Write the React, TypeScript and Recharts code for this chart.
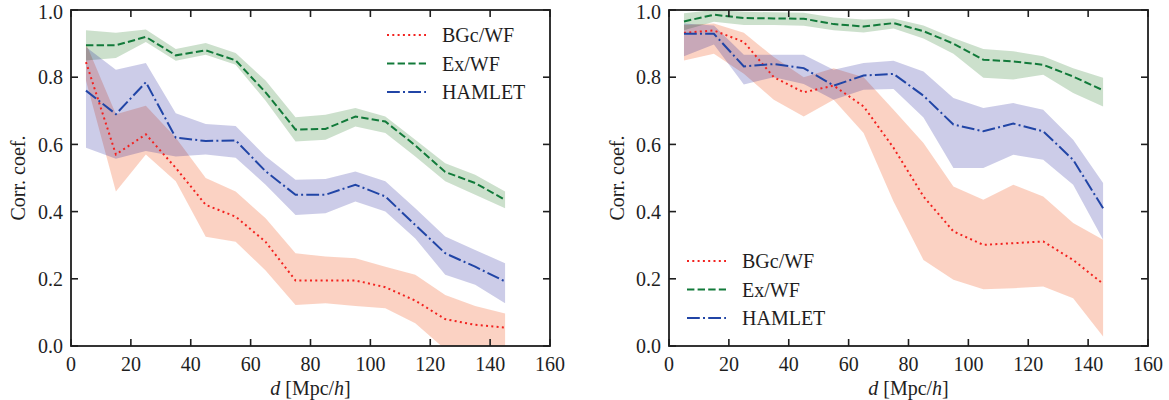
import { Area, ComposedChart, Line, XAxis, YAxis } from 'recharts'

// separation bins, Mpc/h
const DIST = [5, 15, 25, 35, 45, 55, 65, 75, 85, 95, 105, 115, 125, 135, 145]
const X_TICKS = [0, 20, 40, 60, 80, 100, 120, 140, 160]
const Y_TICKS = [0, 0.2, 0.4, 0.6, 0.8, 1.0]
const X_MAX = 160
const Y_MAX = 1

// left panel
const L_BGC = [0.845, 0.57, 0.63, 0.53, 0.42, 0.385, 0.31, 0.195, 0.195, 0.195, 0.175, 0.135, 0.08, 0.063, 0.055]
const L_BGC_LO = [0.79, 0.46, 0.57, 0.49, 0.325, 0.31, 0.225, 0.122, 0.127, 0.119, 0.112, 0.068, -0.01, -0.04, -0.06]
const L_BGC_HI = [0.9, 0.69, 0.715, 0.62, 0.5, 0.46, 0.38, 0.276, 0.266, 0.261, 0.236, 0.212, 0.152, 0.119, 0.097]
const L_EX = [0.895, 0.895, 0.92, 0.865, 0.88, 0.85, 0.755, 0.644, 0.646, 0.683, 0.668, 0.597, 0.518, 0.485, 0.435]
const L_EX_LO = [0.85, 0.857, 0.905, 0.849, 0.867, 0.837, 0.73, 0.609, 0.614, 0.653, 0.634, 0.564, 0.49, 0.45, 0.41]
const L_EX_HI = [0.94, 0.932, 0.942, 0.884, 0.902, 0.872, 0.79, 0.681, 0.688, 0.708, 0.683, 0.614, 0.544, 0.51, 0.46]
const L_HAM = [0.76, 0.69, 0.785, 0.62, 0.61, 0.612, 0.52, 0.45, 0.45, 0.48, 0.445, 0.36, 0.276, 0.236, 0.192]
const L_HAM_LO = [0.59, 0.557, 0.58, 0.564, 0.57, 0.56, 0.48, 0.39, 0.395, 0.43, 0.4, 0.32, 0.212, 0.182, 0.127]
const L_HAM_HI = [0.89, 0.822, 0.842, 0.693, 0.661, 0.655, 0.565, 0.495, 0.497, 0.519, 0.49, 0.41, 0.326, 0.286, 0.246]

// right panel
const R_BGC = [0.932, 0.939, 0.905, 0.8, 0.755, 0.775, 0.713, 0.59, 0.445, 0.341, 0.301, 0.306, 0.311, 0.256, 0.185]
const R_BGC_LO = [0.85, 0.87, 0.81, 0.733, 0.683, 0.733, 0.634, 0.43, 0.256, 0.197, 0.169, 0.172, 0.177, 0.142, 0.028]
const R_BGC_HI = [0.955, 0.96, 0.932, 0.86, 0.8, 0.827, 0.8, 0.703, 0.604, 0.475, 0.435, 0.48, 0.445, 0.366, 0.316]
const R_EX = [0.966, 0.986, 0.976, 0.975, 0.974, 0.958, 0.951, 0.961, 0.937, 0.9, 0.852, 0.847, 0.837, 0.802, 0.761]
const R_EX_LO = [0.94, 0.965, 0.955, 0.955, 0.953, 0.94, 0.933, 0.945, 0.915, 0.87, 0.798, 0.793, 0.807, 0.753, 0.713]
const R_EX_HI = [0.99, 1.0, 0.995, 0.993, 0.992, 0.978, 0.972, 0.975, 0.954, 0.917, 0.884, 0.877, 0.862, 0.827, 0.798]
const R_HAM = [0.929, 0.929, 0.832, 0.839, 0.827, 0.775, 0.805, 0.81, 0.745, 0.659, 0.639, 0.662, 0.639, 0.554, 0.41]
const R_HAM_LO = [0.862, 0.897, 0.778, 0.8, 0.78, 0.733, 0.763, 0.765, 0.68, 0.53, 0.53, 0.569, 0.554, 0.48, 0.316]
const R_HAM_HI = [0.96, 0.954, 0.867, 0.867, 0.867, 0.822, 0.842, 0.849, 0.817, 0.738, 0.708, 0.723, 0.703, 0.614, 0.485]

const FONT = '"Liberation Serif", "Times New Roman", serif'
const INK = '#1e1e1e'
const FS = 20
const TICK = 7

const SERIES = [
  { key: 'bgc', name: 'BGc/WF', color: '#f2221f', dash: '2 3.3', band: '#f26b38', bandOpacity: 0.3 },
  { key: 'ex', name: 'Ex/WF', color: '#127a3a', dash: '7.4 3.2', band: '#006400', bandOpacity: 0.2 },
  { key: 'ham', name: 'HAMLET', color: '#2145a6', dash: '12.8 3.2 2 3.2', band: '#00008b', bandOpacity: 0.2 },
]

type Row = Record<string, any>

function buildRows(s: number[][]): Row[] {
  return DIST.map((d, i) => ({
    d,
    bgc: s[0][i],
    bgcBand: [s[1][i], s[2][i]],
    ex: s[3][i],
    exBand: [s[4][i], s[5][i]],
    ham: s[6][i],
    hamBand: [s[7][i], s[8][i]],
  }))
}

const LEFT_ROWS = buildRows([L_BGC, L_BGC_LO, L_BGC_HI, L_EX, L_EX_LO, L_EX_HI, L_HAM, L_HAM_LO, L_HAM_HI])
const RIGHT_ROWS = buildRows([R_BGC, R_BGC_LO, R_BGC_HI, R_EX, R_EX_LO, R_EX_HI, R_HAM, R_HAM_LO, R_HAM_HI])

const tickFont = { fontFamily: FONT, fontSize: FS, fill: INK }

// plot box inside each panel
const TOP = 10
const LEFT = 71
const BOTTOM = 54
const HEIGHT = 400

function XLabel({ viewBox }: any) {
  const cx = viewBox.x + viewBox.width / 2
  return (
    <text x={cx} y={viewBox.y + 49} textAnchor="middle" fontFamily={FONT} fontSize={FS} fill={INK}>
      <tspan fontStyle="italic">d</tspan> [Mpc/<tspan fontStyle="italic">h</tspan>]
    </text>
  )
}

function LegendBox({ left, top }: { left: number; top: number }) {
  return (
    <svg width={160} height={90} style={{ position: 'absolute', left, top, overflow: 'visible' }}>
      {SERIES.map((s, i) => {
        const y = 8 + i * 28.5
        return (
          <g key={s.key}>
            <line x1={0} x2={39} y1={y} y2={y} stroke={s.color} strokeWidth={2} strokeDasharray={s.dash} />
            <text x={55} y={y + 7} fontFamily={FONT} fontSize={FS} fill={INK}>
              {s.name}
            </text>
          </g>
        )
      })}
    </svg>
  )
}

// boxed frame with inward ticks on all four sides, over the plot box
function FrameBox({ width, right }: { width: number; right: number }) {
  const w = width - LEFT - right
  const h = HEIGHT - TOP - BOTTOM
  const sx = (t: number) => LEFT + (t / X_MAX) * w
  const sy = (v: number) => TOP + (1 - v / Y_MAX) * h
  return (
    <svg width={width} height={HEIGHT} style={{ position: 'absolute', left: 0, top: 0, pointerEvents: 'none' }}>
      <rect x={LEFT} y={TOP} width={w} height={h} fill="none" stroke={INK} strokeWidth={1.8} />
      {X_TICKS.map((t) => (
        <g key={'x' + t}>
          <line x1={sx(t)} x2={sx(t)} y1={TOP + h} y2={TOP + h - TICK} stroke={INK} strokeWidth={1.6} />
          <line x1={sx(t)} x2={sx(t)} y1={TOP} y2={TOP + TICK} stroke={INK} strokeWidth={1.6} />
        </g>
      ))}
      {Y_TICKS.map((t) => (
        <g key={'y' + t}>
          <line x1={LEFT} x2={LEFT + TICK} y1={sy(t)} y2={sy(t)} stroke={INK} strokeWidth={1.6} />
          <line x1={LEFT + w} x2={LEFT + w - TICK} y1={sy(t)} y2={sy(t)} stroke={INK} strokeWidth={1.6} />
        </g>
      ))}
    </svg>
  )
}

function Panel({ rows, left, width, right, yLabelDx, legend }: { rows: Row[]; left: number; width: number; right: number; yLabelDx: number; legend: [number, number] }) {
  return (
    <div style={{ position: 'absolute', left, top: 0, width, height: HEIGHT }}>
      <ComposedChart width={width} height={HEIGHT} data={rows} margin={{ top: TOP, right, bottom: 0, left: 0 }}>
        <XAxis
          dataKey="d"
          type="number"
          domain={[0, X_MAX]}
          ticks={X_TICKS}
          height={BOTTOM}
          tickSize={0}
          tickMargin={11}
          axisLine={false}
          tickLine={false}
          tick={tickFont}
          label={<XLabel />}
        />
        <YAxis
          type="number"
          domain={[0, Y_MAX]}
          ticks={Y_TICKS}
          allowDataOverflow
          width={LEFT}
          tickSize={0}
          tickMargin={8}
          axisLine={false}
          tickLine={false}
          tick={tickFont}
          tickFormatter={(v: number) => v.toFixed(1)}
          label={{ value: 'Corr. coef.', angle: -90, position: 'center', dx: yLabelDx, style: { fontFamily: FONT, fontSize: FS, fill: INK } }}
        />
        {SERIES.map((s) => (
          <Area
            key={s.key + 'Band'}
            dataKey={s.key + 'Band'}
            type="linear"
            stroke="none"
            fill={s.band}
            fillOpacity={s.bandOpacity}
            isAnimationActive={false}
            activeDot={false}
          />
        ))}
        {SERIES.map((s) => (
          <Line
            key={s.key}
            dataKey={s.key}
            type="linear"
            stroke={s.color}
            strokeWidth={2}
            strokeDasharray={s.dash}
            dot={false}
            activeDot={false}
            isAnimationActive={false}
          />
        ))}
      </ComposedChart>
      <FrameBox width={width} right={right} />
      <LegendBox left={legend[0]} top={legend[1]} />
    </div>
  )
}

export default function App() {
  return (
    <div style={{ position: 'absolute', left: 0, top: 0, width: 1169, height: 400, background: '#fff' }}>
      <Panel rows={LEFT_ROWS} left={0} width={600} right={50} yLabelDx={-17.5} legend={[387, 27]} />
      <Panel rows={RIGHT_ROWS} left={598} width={570} right={20} yLabelDx={-16.5} legend={[89, 253]} />
    </div>
  )
}
